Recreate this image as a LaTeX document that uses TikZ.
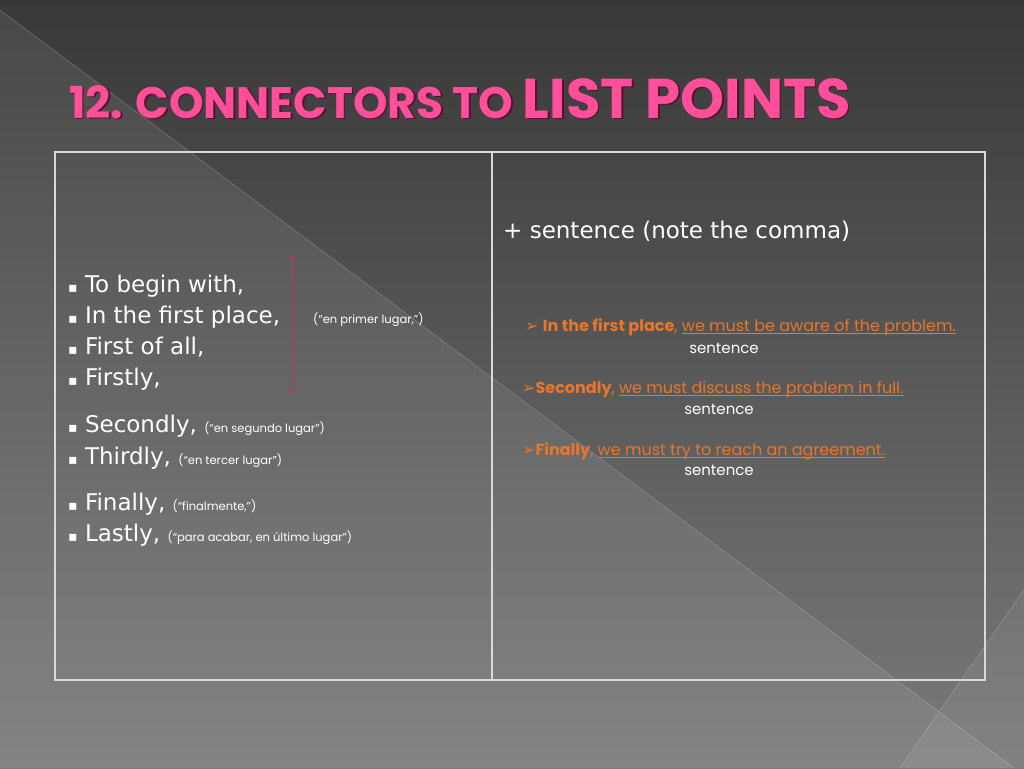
\documentclass[tikz,border=0pt]{standalone}
\usepackage{fontspec}
\setmainfont{DejaVu Sans}
\newfontfamily\geo{Poppins}
\newfontfamily\dvs{DejaVu Sans}
\usetikzlibrary{shadings}
\definecolor{pinkt}{HTML}{FF4F9A}
\definecolor{pinkd}{HTML}{5A1030}
\definecolor{orng}{HTML}{E8762B}
\definecolor{brk}{HTML}{C0306A}
\newcommand\myul[1]{\setbox0\hbox{#1}\rlap{\rule[-2.5pt]{\wd0}{0.7pt}}\box0}
\newcommand\bul{{\fontsize{14}{14}\selectfont▪}}
\newcommand\arr{{\dvs\mdseries ➢}}
\begin{document}
\begin{tikzpicture}[x=1pt,y=-1pt,
  li/.style={anchor=base west,text=white,font=\fontsize{23}{24}\selectfont,inner sep=0},
  sm/.style={font=\geo\fontsize{11.5}{12}\selectfont},
  rt/.style={anchor=base west,text=orng,font=\geo\fontsize{16}{17}\selectfont,inner sep=0},
  sn/.style={anchor=base,text=white,font=\geo\fontsize{15}{16}\selectfont,inner sep=0},
  tt/.style={anchor=base west,inner sep=0}]
\useasboundingbox (0,0) rectangle (1024,768);
\shade[top color=black!78,bottom color=black!52] (0,0) rectangle (1024,768);
\fill[white,opacity=0.08] (0,10) -- (1014,768) -- (0,768) -- cycle;
\draw[white,opacity=0.3] (0,10) -- (1014,768);
\fill[white,opacity=0.06] (1024,590) -- (900,768) -- (1024,768) -- cycle;
\draw[white,opacity=0.3] (1024,590) -- (900,768);
% title
\newcommand\ttl{\geo\bfseries\fontsize{44}{46}\selectfont 12. CONNECTORS TO \fontsize{56}{58}\selectfont LIST POINTS}
\node[tt,text=pinkd] (tshadow) at (70.5,119.5) {\ttl};
\node[tt,text=pinkt] (title) at (69,118) {\ttl};
% table
\draw[black!15,line width=1.2] (55,152) rectangle (985,680);
\draw[black!15,line width=1.2] (492,152) -- (492,680);
% left column
\node[li] (a1) at (68,292) {\bul\ To begin with,};
\node[li] (a2) at (68,323) {\bul\ In the first place,};
\node[li] (a3) at (68,354) {\bul\ First of all,};
\node[li] (a4) at (68,385) {\bul\ Firstly,};
\node[li] (a5) at (68,432) {\bul\ Secondly, {\geo\fontsize{11.5}{12}\selectfont(“en segundo lugar”)}};
\node[li] (a6) at (68,464) {\bul\ Thirdly, {\geo\fontsize{11.5}{12}\selectfont(“en tercer lugar”)}};
\node[li] (a7) at (68,510) {\bul\ Finally, {\geo\fontsize{11.5}{12}\selectfont(“finalmente,”)}};
\node[li] (a8) at (68,541) {\bul\ Lastly, {\geo\fontsize{11.5}{12}\selectfont(“para acabar, en último lugar”)}};
\node[anchor=base west,inner sep=0,text=white,sm] (p1) at (313,323) {(“en primer lugar,”)};
\draw[brk,line width=1] (286,256) -- (292,256) -- (292,390) -- (286,390);
% right column
\node[li] (h) at (503,238) {+ sentence (note the comma)};
\node[rt] (r1) at (525,331) {\arr\ \textbf{In the first place}, \myul{we must be aware of the problem.}};
\node[sn] (s1) at (724,353) {sentence};
\node[rt] (r2) at (522,393) {\arr\textbf{Secondly}, \myul{we must discuss the problem in full.}};
\node[sn] (s2) at (719,414) {sentence};
\node[rt] (r3) at (522,455) {\arr\textbf{Finally}, \myul{we must try to reach an agreement.}};
\node[sn] (s3) at (719,475) {sentence};
\end{tikzpicture}
\end{document}
